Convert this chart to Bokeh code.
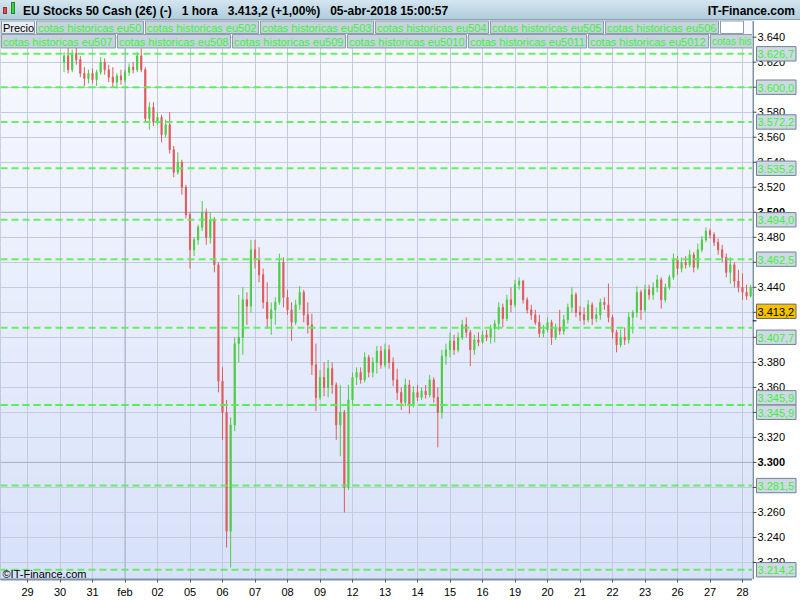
import numpy as np
from bokeh.plotting import figure
from bokeh.models import ColumnDataSource, FixedTicker, Span, Label, Div, Range1d
from bokeh.layouts import column, row
from bokeh.core.properties import value
from bokeh.embed import file_html
from bokeh.resources import INLINE

# ---------------- data ----------------
day_labels = ["29", "30", "31", "feb", "02", "05", "06", "07", "08", "09", "12", "13",
              "14", "15", "16", "19", "20", "21", "22", "23", "26", "27", "28"]
month_day = "feb"
bars_per_day = 8
first_bar = 9  # first bar slot, counted from the "29" tick

opens = [3620, 3625, 3614, 3627, 3622, 3611, 3607, 3611, 3606, 3612, 3620, 3614, 3608, 3604, 3609,
         3606, 3612, 3616, 3614, 3625, 3614, 3575, 3584, 3572, 3576, 3562, 3570, 3550, 3532, 3540,
         3520, 3498, 3470, 3478, 3488, 3500, 3480, 3494, 3458, 3365, 3340, 3245, 3330, 3395, 3400,
         3430, 3425, 3470, 3462, 3450, 3428, 3415, 3422, 3428, 3460, 3432, 3422, 3412, 3426, 3436,
         3418, 3410, 3378, 3352, 3368, 3360, 3375, 3362, 3330, 3340, 3280, 3350, 3368, 3372, 3366,
         3384, 3372, 3380, 3389, 3378, 3390, 3380, 3366, 3356, 3348, 3362, 3346, 3356, 3352, 3357,
         3354, 3366, 3352, 3340, 3385, 3390, 3397, 3390, 3400, 3410, 3404, 3390, 3398, 3396, 3402,
         3400, 3407, 3411, 3424, 3415, 3430, 3426, 3442, 3445, 3430, 3422, 3418, 3412, 3403, 3406,
         3412, 3400, 3408, 3405, 3414, 3424, 3434, 3420, 3418, 3414, 3426, 3415, 3418, 3428, 3426,
         3416, 3404, 3394, 3400, 3398, 3416, 3420, 3436, 3422, 3438, 3434, 3440, 3446, 3430, 3440,
         3448, 3462, 3455, 3460, 3458, 3466, 3456, 3470, 3478, 3485, 3482, 3476, 3470, 3464, 3452,
         3458, 3445, 3440, 3436, 3433]
highs = [3628, 3632, 3630, 3633, 3625, 3616, 3614, 3615, 3614, 3624, 3623, 3618, 3616, 3611, 3614,
         3614, 3619, 3620, 3628, 3631, 3616, 3588, 3588, 3580, 3578, 3574, 3580, 3553, 3548, 3542,
         3522, 3500, 3480, 3490, 3509, 3503, 3500, 3496, 3460, 3376, 3350, 3336, 3400, 3434, 3440,
         3436, 3478, 3478, 3472, 3455, 3444, 3428, 3432, 3467, 3464, 3438, 3428, 3430, 3441, 3438,
         3428, 3419, 3395, 3374, 3380, 3382, 3380, 3364, 3362, 3342, 3362, 3372, 3376, 3376, 3388,
         3386, 3384, 3393, 3393, 3395, 3394, 3384, 3375, 3360, 3367, 3366, 3361, 3362, 3360, 3362,
         3370, 3368, 3360, 3390, 3395, 3404, 3402, 3404, 3414, 3416, 3406, 3402, 3404, 3405, 3406,
         3410, 3414, 3428, 3427, 3434, 3440, 3446, 3448, 3446, 3432, 3426, 3422, 3418, 3410, 3416,
         3414, 3411, 3422, 3418, 3427, 3440, 3436, 3425, 3424, 3430, 3428, 3424, 3431, 3432, 3443,
         3418, 3406, 3406, 3408, 3420, 3422, 3441, 3438, 3442, 3442, 3444, 3450, 3448, 3443, 3450,
         3467, 3465, 3464, 3465, 3470, 3468, 3475, 3481, 3488, 3487, 3484, 3479, 3474, 3467, 3464,
         3460, 3454, 3451, 3442, 3442]
lows = [3612, 3611, 3612, 3618, 3608, 3601, 3603, 3603, 3601, 3610, 3610, 3604, 3600, 3599, 3602,
        3604, 3609, 3611, 3612, 3612, 3572, 3566, 3569, 3570, 3556, 3560, 3547, 3528, 3530, 3514,
        3495, 3455, 3465, 3474, 3485, 3474, 3475, 3452, 3356, 3318, 3232, 3216, 3325, 3380, 3386,
        3410, 3420, 3455, 3444, 3423, 3407, 3402, 3410, 3426, 3424, 3418, 3397, 3410, 3422, 3412,
        3403, 3370, 3341, 3350, 3353, 3352, 3355, 3318, 3305, 3260, 3278, 3346, 3362, 3363, 3364,
        3368, 3368, 3371, 3375, 3376, 3375, 3361, 3350, 3342, 3345, 3339, 3344, 3349, 3350, 3351,
        3352, 3348, 3312, 3335, 3378, 3384, 3386, 3388, 3398, 3400, 3377, 3386, 3393, 3395, 3397,
        3395, 3396, 3406, 3408, 3413, 3420, 3424, 3438, 3427, 3419, 3414, 3410, 3400, 3400, 3404,
        3394, 3398, 3402, 3402, 3411, 3420, 3416, 3413, 3410, 3412, 3410, 3412, 3414, 3422, 3412,
        3399, 3388, 3392, 3394, 3395, 3403, 3416, 3414, 3420, 3430, 3430, 3436, 3423, 3428, 3438,
        3446, 3450, 3452, 3455, 3456, 3452, 3454, 3468, 3476, 3479, 3473, 3466, 3460, 3448, 3443,
        3440, 3436, 3430, 3430, 3432]
closes = [3625, 3614, 3627, 3622, 3611, 3607, 3611, 3606, 3612, 3620, 3614, 3608, 3604, 3609, 3606,
          3612, 3616, 3614, 3625, 3614, 3575, 3584, 3572, 3576, 3562, 3570, 3550, 3532, 3540, 3520,
          3498, 3470, 3478, 3488, 3500, 3480, 3494, 3458, 3365, 3340, 3245, 3330, 3395, 3400, 3430,
          3425, 3470, 3462, 3450, 3428, 3415, 3422, 3428, 3460, 3432, 3422, 3412, 3426, 3436, 3418,
          3410, 3378, 3352, 3368, 3360, 3375, 3362, 3330, 3340, 3280, 3350, 3368, 3372, 3366, 3384,
          3372, 3380, 3389, 3378, 3390, 3380, 3366, 3356, 3348, 3362, 3346, 3356, 3352, 3357, 3354,
          3366, 3352, 3340, 3385, 3390, 3397, 3390, 3400, 3410, 3404, 3390, 3398, 3396, 3402, 3400,
          3407, 3411, 3424, 3415, 3430, 3426, 3442, 3445, 3430, 3422, 3418, 3412, 3403, 3406, 3412,
          3400, 3408, 3405, 3414, 3424, 3434, 3420, 3418, 3414, 3426, 3415, 3418, 3428, 3426, 3416,
          3404, 3394, 3400, 3398, 3416, 3420, 3436, 3422, 3438, 3434, 3440, 3446, 3430, 3440, 3448,
          3462, 3455, 3460, 3458, 3466, 3456, 3470, 3478, 3485, 3482, 3476, 3470, 3464, 3452, 3458,
          3445, 3440, 3436, 3433, 3440]

levels = [3626.7, 3600.0, 3572.2, 3535.2, 3494.0, 3462.5, 3407.7, 3345.9, 3345.9, 3281.5, 3214.2]
last_price = 3413.2
y_ticks = list(range(3220, 3641, 20))
bold_y_ticks = [3300, 3500]

series_names = ["cotas historicas eu50", "cotas historicas eu502", "cotas historicas eu503",
                "cotas historicas eu504", "cotas historicas eu505", "cotas historicas eu506",
                "cotas historicas eu507", "cotas historicas eu508", "cotas historicas eu509",
                "cotas historicas eu5010", "cotas historicas eu5011", "cotas historicas eu5012",
                "cotas his"]
header_left = "EU Stocks 50 Cash (2€) (-)   1 hora   3.413,2 (+1,00%)   05-abr-2018 15:00:57"
header_right = "IT-Finance.com"
copyright_txt = "©IT-Finance.com"

# ---------------- layout helpers (reference pixel space -> data) ----------------
FONT = "Liberation Sans"
def xd(px):
    return (px - 27.0) / 32.5
def yd(py):
    return 3640.0 - (py - 36.7) / 1.253
def ypx(v):
    return 36.7 + (3640.0 - v) * 1.253

W = 800
MAIN_W = 752
SIDE_W = W - MAIN_W
HEAD_H = 20
FIG_H = 580
B = 20

x_lo, x_hi = xd(0), xd(MAIN_W)
y_lo, y_hi = yd(HEAD_H + FIG_H - B), yd(HEAD_H)

def fmt_es(v, dec):
    s = f"{v:,.{dec}f}"
    return s.replace(",", "#").replace(".", ",").replace("#", ".")

p = figure(width=MAIN_W, height=FIG_H, output_backend="svg", toolbar_location=None, title=None,
           x_range=Range1d(x_lo, x_hi), y_range=Range1d(y_lo, y_hi),
           y_axis_location=None, min_border_left=0, min_border_top=0,
           min_border_right=0, min_border_bottom=B)
p.background_fill_color = "#e4eafb"
p.border_fill_color = "white"
p.outline_line_color = "#8397aa"

# background gradient bands
nb = 60
edges = np.linspace(y_lo, y_hi, nb + 1)
top_c = np.array([249, 250, 255]); bot_c = np.array([215, 225, 249])
band_cols = []
for i in range(nb):
    f = (i + 0.5) / nb
    c = bot_c + (top_c - bot_c) * f
    band_cols.append("#%02x%02x%02x" % tuple(int(round(v)) for v in c))
p.quad(left=x_lo, right=x_hi, bottom=edges[:-1], top=edges[1:], fill_color=band_cols,
       line_color=band_cols, line_width=1, level="image")

# axes / grids
xt = FixedTicker(ticks=list(range(len(day_labels))))
yt = FixedTicker(ticks=y_ticks)
p.xaxis.ticker = xt
p.xgrid.ticker = xt
p.ygrid.ticker = yt
p.xaxis.major_label_overrides = {i: d for i, d in enumerate(day_labels)}
ax = p.xaxis[0]
ax.major_label_text_font = FONT
ax.major_label_text_font_size = "11px"
ax.major_label_text_color = "black"
ax.axis_line_color = "#7d92a5"
ax.axis_line_width = 2
ax.major_tick_line_color = "#555555"
ax.major_tick_in = 0
ax.major_tick_out = 3
ax.minor_tick_in = 0
ax.minor_tick_out = 0
ax.major_label_standoff = 3
p.xgrid.grid_line_color = "#c4cbde"
p.ygrid.grid_line_color = "#c4cbde"

for v in bold_y_ticks:
    p.add_layout(Span(location=v, dimension="width", line_color="#a7b1c6", line_width=1, level="underlay"))
p.add_layout(Span(location=day_labels.index(month_day), dimension="height", line_color="#a7b1c6",
                  line_width=1, level="underlay"))

# candles
t = [(first_bar + k) / bars_per_day for k in range(len(closes))]
cols = ["#4fcc45" if c >= o else "#df5d5d" for o, c in zip(opens, closes)]
src = ColumnDataSource(dict(t=t, o=opens, h=highs, l=lows, c=closes,
                            top=[max(o, c) for o, c in zip(opens, closes)],
                            bottom=[min(o, c) for o, c in zip(opens, closes)], color=cols))
p.segment(x0="t", y0="l", x1="t", y1="h", line_color="color", line_width=1, source=src)
p.vbar(x="t", width=0.035, top="top", bottom="bottom", fill_color="color", line_color="color",
       line_width=1, source=src)

# level lines
for v in levels:
    p.add_layout(Span(location=v, dimension="width", line_color="#55ee55", line_width=2,
                      line_dash="7 4", line_alpha=0.9))

# legend tabs (inside frame, top)
row1 = [("Precio", 1, 34)] + [(series_names[i], a, b) for i, (a, b) in
        enumerate([(36, 143), (145, 258), (260, 373), (375, 488), (490, 603), (605, 718)])] + [("", 720, 743)]
row2 = [(series_names[6 + i], a, b) for i, (a, b) in
        enumerate([(1, 115), (117, 230), (232, 345), (347, 466), (468, 586), (588, 708), (710, 800)])]
tl, tr, tt, tb, tx, ty, tlab, tfill, tcol, tsize = [], [], [], [], [], [], [], [], [], []
for rw, (y0, y1) in ((row1, (20.5, 33.0)), (row2, (34.0, 47.5))):
    for lab, a, b in rw:
        tl.append(xd(a)); tr.append(xd(b)); tt.append(yd(y0)); tb.append(yd(y1))
        tx.append(xd(a + 1.5)); ty.append(yd((y0 + y1) / 2 + 0.5)); tlab.append(lab)
        tfill.append("#e9eef2" if lab == "Precio" else ("#ffffff" if lab == "" else "#c6d3dc"))
        tcol.append("black" if lab == "Precio" else "#3cf03c")
        tsize.append("10px" if b > MAIN_W else "11px")
tsrc = ColumnDataSource(dict(l=tl, r=tr, t=tt, b=tb, x=tx, y=ty, lab=tlab, fill=tfill, col=tcol, fs=tsize))
p.quad(left="l", right="r", top="t", bottom="b", fill_color="fill", line_color="#8a9dac", source=tsrc)
p.text(x="x", y="y", text="lab", text_color="col", text_font=value(FONT), text_font_size="fs",
       text_baseline="middle", source=tsrc)

# copyright
p.add_layout(Label(x=xd(2), y=yd(574.5), text=copyright_txt, text_font=FONT, text_font_size="11px",
                   text_color="black", text_baseline="middle"))

# ---------------- right-hand price scale (shares the y scale) ----------------
side = figure(width=SIDE_W, height=FIG_H, output_backend="svg", toolbar_location=None, title=None,
              x_range=Range1d(0, SIDE_W), y_range=p.y_range, x_axis_location=None, y_axis_location=None,
              min_border_left=0, min_border_right=0, min_border_top=0, min_border_bottom=B)
side.xgrid.visible = False
side.ygrid.visible = False
side.outline_line_color = None
side.background_fill_color = "white"
side.border_fill_color = "white"

side.segment(x0=0.5, x1=0.5, y0=y_lo, y1=y_hi, line_color="#7d92a5", line_width=2)
side.segment(x0=0, x1=4, y0=y_ticks, y1=y_ticks, line_color="#444444", line_width=1)
side.segment(x0=0, x1=4, y0=[last_price], y1=[last_price], line_color="black", line_width=1)
norm = [v for v in y_ticks if v not in bold_y_ticks]
side.text(x=5, y=norm, text=[fmt_es(v, 0) for v in norm], text_font=value(FONT),
          text_font_size="11px", text_color="black", text_baseline="middle")
side.text(x=5, y=bold_y_ticks, text=[fmt_es(v, 0) for v in bold_y_ticks], text_font=value(FONT),
          text_font_size="11px", text_font_style="bold", text_color="black", text_baseline="middle")

boxes = [(ypx(v), fmt_es(v, 1), "level") for v in levels] + [(ypx(last_price), fmt_es(last_price, 1), "price")]
boxes.sort(key=lambda b: b[0])
pos = [b[0] for b in boxes]
for _ in range(60):
    for i in range(len(pos) - 1):
        gap = 26.0 if "price" in (boxes[i][2], boxes[i + 1][2]) else 14.5
        if pos[i + 1] - pos[i] < gap:
            m = (pos[i] + pos[i + 1]) / 2
            pos[i], pos[i + 1] = m - gap / 2, m + gap / 2
bsrc = ColumnDataSource(dict(
    top=[yd(py - 7.2) for py in pos], bottom=[yd(py + 7.2) for py in pos], y=[yd(py + 0.4) for py in pos],
    txt=[b[1] for b in boxes],
    fill=["#f6c200" if b[2] == "price" else "#cfd9e3" for b in boxes],
    line=["#6b6b6b" if b[2] == "price" else "#6e8396" for b in boxes],
    col=["black" if b[2] == "price" else "#3cf03c" for b in boxes]))
side.quad(left=4, right=43.5, top="top", bottom="bottom", fill_color="fill", line_color="line", source=bsrc)
side.text(x=5, y="y", text="txt", text_color="col", text_font=value(FONT), text_font_size="11px",
          text_baseline="middle", source=bsrc)

header = Div(text=(
    f'<div style="position:relative;width:{W}px;height:{HEAD_H}px;box-sizing:border-box;'
    'background:linear-gradient(#d4e6f0,#b1ccdc);border-bottom:1px solid #8aa3b3;'
    f"font-family:'{FONT}',Arial,sans-serif;font-weight:bold;font-size:12px;color:#000;white-space:pre;\">"
    '<span style="position:absolute;left:3px;top:7px;width:4px;height:7px;background:#e05050;border:1px solid #a03030"></span>'
    '<span style="position:absolute;left:11px;top:2px;width:4px;height:12px;background:#40d040;border:1px solid #208a20"></span>'
    f'<span style="position:absolute;left:23px;top:3px;">{header_left}</span>'
    f'<span style="position:absolute;right:5px;top:3px;">{header_right}</span></div>'),
    width=W, height=HEAD_H, margin=0)

layout = column(header, row(p, side, spacing=0), spacing=0)
open("out.html", "w").write(file_html(layout, INLINE))
